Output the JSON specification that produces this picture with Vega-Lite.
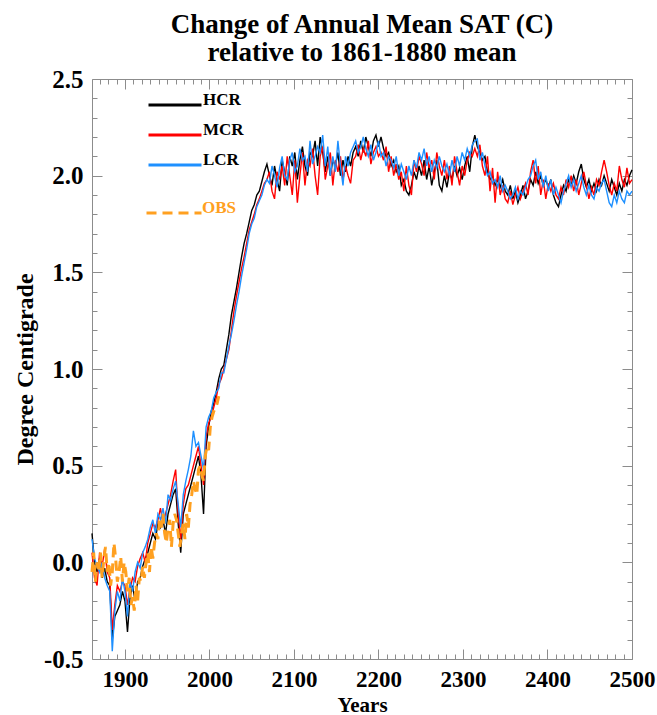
{
  "$schema": "https://vega.github.io/schema/vega-lite/v6.json",
  "width": 540,
  "height": 580,
  "autosize": {"type": "none"},
  "padding": {"left": 92, "top": 79, "right": 25, "bottom": 56},
  "background": "white",
  "config": {
    "view": {"stroke": "#8c8c8c", "strokeWidth": 1},
    "font": "Liberation Serif",
    "axis": {
      "domain": false,
      "grid": false,
      "tickColor": "#8c8c8c",
      "tickWidth": 1,
      "labelFont": "Liberation Serif",
      "labelFontWeight": "bold",
      "labelFontSize": 23,
      "labelColor": "black",
      "labelOverlap": false,
      "labelFlush": false,
      "titleFont": "Liberation Serif",
      "titleFontWeight": "bold",
      "titleColor": "black"
    }
  },
  "title": {
    "text": ["Change of Annual Mean SAT (C)", "relative to 1861-1880 mean"],
    "font": "Liberation Serif",
    "fontWeight": "bold",
    "fontSize": 27,
    "lineHeight": 28,
    "color": "black",
    "anchor": "middle",
    "offset": 0
  },
  "datasets": {
    "runs": [
      {"t":1861,"HCR":0.15,"MCR":0.05,"LCR":0.12},{"t":1864,"HCR":0.0,"MCR":-0.08,"LCR":0.02},{"t":1867,"HCR":-0.05,"MCR":-0.12,"LCR":-0.02},
      {"t":1870,"HCR":0.02,"MCR":0.05,"LCR":-0.05},{"t":1873,"HCR":-0.08,"MCR":-0.02,"LCR":0.0},{"t":1876,"HCR":-0.03,"MCR":0.07,"LCR":-0.08},
      {"t":1879,"HCR":-0.1,"MCR":-0.05,"LCR":-0.12},{"t":1882,"HCR":-0.12,"MCR":-0.08,"LCR":-0.15},{"t":1885,"HCR":-0.4,"MCR":-0.35,"LCR":-0.46},
      {"t":1888,"HCR":-0.28,"MCR":-0.22,"LCR":-0.25},{"t":1891,"HCR":-0.25,"MCR":-0.12,"LCR":-0.15},{"t":1894,"HCR":-0.22,"MCR":-0.15,"LCR":-0.2},
      {"t":1897,"HCR":-0.15,"MCR":-0.1,"LCR":-0.08},{"t":1900,"HCR":-0.2,"MCR":-0.12,"LCR":-0.15},{"t":1903,"HCR":-0.36,"MCR":-0.22,"LCR":-0.28},
      {"t":1906,"HCR":-0.18,"MCR":-0.14,"LCR":-0.1},{"t":1909,"HCR":-0.12,"MCR":-0.08,"LCR":-0.15},{"t":1912,"HCR":-0.2,"MCR":-0.1,"LCR":-0.05},
      {"t":1915,"HCR":-0.1,"MCR":-0.02,"LCR":0.0},{"t":1918,"HCR":-0.08,"MCR":0.02,"LCR":-0.03},{"t":1921,"HCR":-0.02,"MCR":0.05,"LCR":0.05},
      {"t":1924,"HCR":0.02,"MCR":0.0,"LCR":0.08},{"t":1927,"HCR":0.05,"MCR":0.1,"LCR":0.12},{"t":1930,"HCR":0.1,"MCR":0.15,"LCR":0.18},
      {"t":1933,"HCR":0.15,"MCR":0.2,"LCR":0.22},{"t":1936,"HCR":0.12,"MCR":0.18,"LCR":0.15},{"t":1939,"HCR":0.2,"MCR":0.22,"LCR":0.25},
      {"t":1942,"HCR":0.18,"MCR":0.28,"LCR":0.22},{"t":1945,"HCR":0.22,"MCR":0.2,"LCR":0.28},{"t":1948,"HCR":0.15,"MCR":0.25,"LCR":0.2},
      {"t":1951,"HCR":0.25,"MCR":0.3,"LCR":0.35},{"t":1954,"HCR":0.3,"MCR":0.35,"LCR":0.32},{"t":1957,"HCR":0.35,"MCR":0.42,"LCR":0.38},
      {"t":1960,"HCR":0.38,"MCR":0.48,"LCR":0.42},{"t":1963,"HCR":0.2,"MCR":0.25,"LCR":0.3},{"t":1966,"HCR":0.05,"MCR":0.12,"LCR":0.18},
      {"t":1969,"HCR":0.25,"MCR":0.3,"LCR":0.35},{"t":1972,"HCR":0.3,"MCR":0.38,"LCR":0.42},{"t":1975,"HCR":0.35,"MCR":0.4,"LCR":0.48},
      {"t":1978,"HCR":0.4,"MCR":0.45,"LCR":0.55},{"t":1981,"HCR":0.45,"MCR":0.5,"LCR":0.68},{"t":1984,"HCR":0.5,"MCR":0.55,"LCR":0.6},
      {"t":1987,"HCR":0.55,"MCR":0.6,"LCR":0.62},{"t":1990,"HCR":0.45,"MCR":0.5,"LCR":0.55},{"t":1993,"HCR":0.25,"MCR":0.4,"LCR":0.48},
      {"t":1996,"HCR":0.6,"MCR":0.65,"LCR":0.7},{"t":1999,"HCR":0.7,"MCR":0.72,"LCR":0.75},{"t":2002,"HCR":0.78,"MCR":0.75,"LCR":0.78},
      {"t":2005,"HCR":0.82,"MCR":0.8,"LCR":0.85},{"t":2008,"HCR":0.88,"MCR":0.85,"LCR":0.88},{"t":2011,"HCR":0.95,"MCR":0.92,"LCR":0.9},
      {"t":2014,"HCR":1.0,"MCR":0.95,"LCR":0.98},{"t":2017,"HCR":1.02,"MCR":1.0,"LCR":0.98},{"t":2020,"HCR":1.1,"MCR":1.05,"LCR":1.05},
      {"t":2023,"HCR":1.18,"MCR":1.1,"LCR":1.12},{"t":2026,"HCR":1.28,"MCR":1.2,"LCR":1.18},{"t":2029,"HCR":1.35,"MCR":1.3,"LCR":1.25},
      {"t":2032,"HCR":1.42,"MCR":1.38,"LCR":1.33},{"t":2035,"HCR":1.5,"MCR":1.45,"LCR":1.4},{"t":2038,"HCR":1.58,"MCR":1.52,"LCR":1.48},
      {"t":2041,"HCR":1.65,"MCR":1.58,"LCR":1.55},{"t":2044,"HCR":1.7,"MCR":1.65,"LCR":1.62},{"t":2047,"HCR":1.76,"MCR":1.72,"LCR":1.7},
      {"t":2050,"HCR":1.82,"MCR":1.76,"LCR":1.75},{"t":2053,"HCR":1.85,"MCR":1.8,"LCR":1.78},{"t":2056,"HCR":1.9,"MCR":1.85,"LCR":1.84},
      {"t":2059,"HCR":1.92,"MCR":1.88,"LCR":1.87},{"t":2062,"HCR":1.97,"MCR":1.92,"LCR":1.9},{"t":2065,"HCR":2.02,"MCR":1.96,"LCR":1.95},
      {"t":2068,"HCR":2.06,"MCR":1.98,"LCR":1.98},{"t":2071,"HCR":2.0,"MCR":2.02,"LCR":1.96},{"t":2074,"HCR":1.95,"MCR":1.92,"LCR":2.05},
      {"t":2077,"HCR":2.05,"MCR":1.88,"LCR":2.0},{"t":2080,"HCR":1.98,"MCR":2.02,"LCR":1.94},{"t":2083,"HCR":1.92,"MCR":1.98,"LCR":2.04},
      {"t":2086,"HCR":2.08,"MCR":2.05,"LCR":2.1},{"t":2089,"HCR":2.02,"MCR":1.95,"LCR":2.0},{"t":2092,"HCR":1.95,"MCR":2.1,"LCR":1.98},
      {"t":2095,"HCR":2.1,"MCR":2.0,"LCR":2.08},{"t":2098,"HCR":2.05,"MCR":1.9,"LCR":2.12},{"t":2101,"HCR":2.12,"MCR":2.08,"LCR":2.02},
      {"t":2104,"HCR":1.98,"MCR":1.86,"LCR":2.05},{"t":2107,"HCR":2.08,"MCR":2.0,"LCR":2.14},{"t":2110,"HCR":2.15,"MCR":2.12,"LCR":2.08},
      {"t":2113,"HCR":2.05,"MCR":1.95,"LCR":2.1},{"t":2116,"HCR":2.0,"MCR":2.08,"LCR":2.02},{"t":2119,"HCR":2.12,"MCR":2.05,"LCR":2.18},
      {"t":2122,"HCR":2.1,"MCR":2.14,"LCR":2.06},{"t":2125,"HCR":2.18,"MCR":2.0,"LCR":2.1},{"t":2128,"HCR":2.05,"MCR":1.9,"LCR":2.15},
      {"t":2131,"HCR":2.2,"MCR":2.1,"LCR":2.12},{"t":2134,"HCR":2.12,"MCR":2.15,"LCR":2.21},{"t":2137,"HCR":2.02,"MCR":1.98,"LCR":2.05},
      {"t":2140,"HCR":2.1,"MCR":2.05,"LCR":2.15},{"t":2143,"HCR":2.0,"MCR":2.12,"LCR":2.0},{"t":2146,"HCR":2.08,"MCR":1.95,"LCR":2.1},
      {"t":2149,"HCR":2.05,"MCR":2.08,"LCR":2.02},{"t":2152,"HCR":2.12,"MCR":2.02,"LCR":2.18},{"t":2155,"HCR":2.0,"MCR":2.1,"LCR":2.05},
      {"t":2158,"HCR":2.08,"MCR":1.98,"LCR":1.95},{"t":2161,"HCR":2.02,"MCR":2.05,"LCR":2.1},{"t":2164,"HCR":2.1,"MCR":2.0,"LCR":2.05},
      {"t":2167,"HCR":2.05,"MCR":1.96,"LCR":2.12},{"t":2170,"HCR":2.12,"MCR":2.08,"LCR":2.15},{"t":2173,"HCR":2.15,"MCR":2.1,"LCR":2.18},
      {"t":2176,"HCR":2.1,"MCR":2.16,"LCR":2.12},{"t":2179,"HCR":2.18,"MCR":2.08,"LCR":2.15},{"t":2182,"HCR":2.12,"MCR":2.14,"LCR":2.2},
      {"t":2185,"HCR":2.2,"MCR":2.1,"LCR":2.14},{"t":2188,"HCR":2.15,"MCR":2.18,"LCR":2.1},{"t":2191,"HCR":2.1,"MCR":2.06,"LCR":2.16},
      {"t":2194,"HCR":2.18,"MCR":2.12,"LCR":2.08},{"t":2197,"HCR":2.21,"MCR":2.15,"LCR":2.12},{"t":2200,"HCR":2.15,"MCR":2.1,"LCR":2.18},
      {"t":2203,"HCR":2.2,"MCR":2.12,"LCR":2.1},{"t":2206,"HCR":2.14,"MCR":2.08,"LCR":2.12},{"t":2209,"HCR":2.1,"MCR":2.15,"LCR":2.05},
      {"t":2212,"HCR":2.12,"MCR":2.02,"LCR":2.1},{"t":2215,"HCR":2.05,"MCR":2.1,"LCR":2.08},{"t":2218,"HCR":2.08,"MCR":2.0,"LCR":2.04},
      {"t":2221,"HCR":2.02,"MCR":2.06,"LCR":2.1},{"t":2224,"HCR":2.05,"MCR":1.98,"LCR":2.0},{"t":2227,"HCR":1.95,"MCR":2.02,"LCR":2.06},
      {"t":2230,"HCR":1.98,"MCR":1.92,"LCR":2.02},{"t":2233,"HCR":1.92,"MCR":2.05,"LCR":1.98},{"t":2236,"HCR":1.9,"MCR":1.95,"LCR":2.05},
      {"t":2239,"HCR":1.95,"MCR":1.9,"LCR":2.0},{"t":2242,"HCR":2.02,"MCR":2.08,"LCR":2.08},{"t":2245,"HCR":1.98,"MCR":2.02,"LCR":2.04},
      {"t":2248,"HCR":2.05,"MCR":2.1,"LCR":2.12},{"t":2251,"HCR":2.0,"MCR":2.06,"LCR":2.08},{"t":2254,"HCR":2.08,"MCR":2.0,"LCR":2.14},
      {"t":2257,"HCR":1.98,"MCR":2.12,"LCR":2.05},{"t":2260,"HCR":2.05,"MCR":2.04,"LCR":2.1},{"t":2263,"HCR":1.95,"MCR":2.08,"LCR":2.02},
      {"t":2266,"HCR":2.02,"MCR":1.98,"LCR":2.08},{"t":2269,"HCR":2.08,"MCR":2.12,"LCR":2.04},{"t":2272,"HCR":1.95,"MCR":2.05,"LCR":2.1},
      {"t":2275,"HCR":1.92,"MCR":2.0,"LCR":2.05},{"t":2278,"HCR":2.0,"MCR":2.08,"LCR":2.02},{"t":2281,"HCR":1.94,"MCR":1.98,"LCR":2.06},
      {"t":2284,"HCR":2.02,"MCR":2.05,"LCR":2.0},{"t":2287,"HCR":1.98,"MCR":1.95,"LCR":2.08},{"t":2290,"HCR":2.05,"MCR":2.1,"LCR":2.02},
      {"t":2293,"HCR":2.0,"MCR":2.02,"LCR":2.1},{"t":2296,"HCR":2.04,"MCR":1.95,"LCR":2.05},{"t":2299,"HCR":1.98,"MCR":2.05,"LCR":2.12},
      {"t":2302,"HCR":2.05,"MCR":2.0,"LCR":2.08},{"t":2305,"HCR":2.1,"MCR":2.08,"LCR":2.14},{"t":2308,"HCR":2.02,"MCR":2.12,"LCR":2.1},
      {"t":2311,"HCR":2.15,"MCR":2.1,"LCR":2.16},{"t":2314,"HCR":2.21,"MCR":2.14,"LCR":2.18},{"t":2317,"HCR":2.15,"MCR":2.1,"LCR":2.19},
      {"t":2320,"HCR":2.12,"MCR":2.16,"LCR":2.08},{"t":2323,"HCR":2.08,"MCR":2.05,"LCR":2.12},{"t":2326,"HCR":2.1,"MCR":2.0,"LCR":2.05},
      {"t":2329,"HCR":2.02,"MCR":2.1,"LCR":2.0},{"t":2332,"HCR":1.98,"MCR":1.92,"LCR":2.02},{"t":2335,"HCR":2.0,"MCR":2.04,"LCR":1.96},
      {"t":2338,"HCR":1.95,"MCR":1.86,"LCR":1.98},{"t":2341,"HCR":1.98,"MCR":2.02,"LCR":1.94},{"t":2344,"HCR":1.94,"MCR":1.9,"LCR":2.0},
      {"t":2347,"HCR":1.98,"MCR":1.95,"LCR":1.92},{"t":2350,"HCR":1.92,"MCR":1.88,"LCR":1.95},{"t":2353,"HCR":1.9,"MCR":1.86,"LCR":1.92},
      {"t":2356,"HCR":1.95,"MCR":1.92,"LCR":1.88},{"t":2359,"HCR":1.88,"MCR":1.85,"LCR":1.9},{"t":2362,"HCR":1.92,"MCR":1.9,"LCR":1.94},
      {"t":2365,"HCR":1.86,"MCR":1.94,"LCR":1.88},{"t":2368,"HCR":1.9,"MCR":1.88,"LCR":1.92},{"t":2371,"HCR":1.95,"MCR":1.92,"LCR":1.9},
      {"t":2374,"HCR":1.88,"MCR":1.96,"LCR":1.94},{"t":2377,"HCR":1.92,"MCR":1.9,"LCR":1.98},{"t":2380,"HCR":1.98,"MCR":2.02,"LCR":2.0},
      {"t":2383,"HCR":1.95,"MCR":2.08,"LCR":2.05},{"t":2386,"HCR":2.02,"MCR":1.96,"LCR":2.08},{"t":2389,"HCR":1.96,"MCR":2.05,"LCR":1.98},
      {"t":2392,"HCR":2.0,"MCR":1.9,"LCR":2.02},{"t":2395,"HCR":1.95,"MCR":1.98,"LCR":1.94},{"t":2398,"HCR":1.98,"MCR":1.88,"LCR":2.0},
      {"t":2401,"HCR":1.94,"MCR":1.96,"LCR":1.92},{"t":2404,"HCR":1.98,"MCR":1.92,"LCR":1.98},{"t":2407,"HCR":1.9,"MCR":1.96,"LCR":1.9},
      {"t":2410,"HCR":1.86,"MCR":1.9,"LCR":1.94},{"t":2413,"HCR":1.84,"MCR":1.88,"LCR":1.9},{"t":2416,"HCR":1.9,"MCR":1.94,"LCR":1.86},
      {"t":2419,"HCR":1.95,"MCR":1.9,"LCR":1.92},{"t":2422,"HCR":1.92,"MCR":1.98,"LCR":1.96},{"t":2425,"HCR":1.98,"MCR":1.94,"LCR":2.0},
      {"t":2428,"HCR":1.95,"MCR":2.0,"LCR":1.94},{"t":2431,"HCR":2.0,"MCR":1.92,"LCR":1.98},{"t":2434,"HCR":1.96,"MCR":1.98,"LCR":1.92},
      {"t":2437,"HCR":2.02,"MCR":1.9,"LCR":1.96},{"t":2440,"HCR":2.06,"MCR":1.96,"LCR":2.0},{"t":2443,"HCR":1.98,"MCR":2.02,"LCR":1.94},
      {"t":2446,"HCR":1.94,"MCR":1.95,"LCR":1.9},{"t":2449,"HCR":1.98,"MCR":1.88,"LCR":1.95},{"t":2452,"HCR":1.92,"MCR":1.94,"LCR":1.9},
      {"t":2455,"HCR":1.96,"MCR":1.9,"LCR":1.88},{"t":2458,"HCR":1.92,"MCR":1.98,"LCR":1.94},{"t":2461,"HCR":1.98,"MCR":1.95,"LCR":1.92},
      {"t":2464,"HCR":1.95,"MCR":2.02,"LCR":1.96},{"t":2467,"HCR":2.0,"MCR":2.08,"LCR":1.98},{"t":2470,"HCR":1.96,"MCR":2.02,"LCR":1.92},
      {"t":2473,"HCR":1.92,"MCR":1.95,"LCR":1.86},{"t":2476,"HCR":1.98,"MCR":1.9,"LCR":1.84},{"t":2479,"HCR":1.94,"MCR":1.96,"LCR":1.9},
      {"t":2482,"HCR":1.9,"MCR":1.92,"LCR":1.86},{"t":2485,"HCR":1.96,"MCR":2.05,"LCR":1.92},{"t":2488,"HCR":1.92,"MCR":1.98,"LCR":1.88},
      {"t":2491,"HCR":1.98,"MCR":1.94,"LCR":1.86},{"t":2494,"HCR":1.95,"MCR":2.04,"LCR":1.92},{"t":2497,"HCR":2.0,"MCR":1.96,"LCR":1.9},
      {"t":2500,"HCR":2.03,"MCR":1.98,"LCR":1.92}
    ],
    "obs": [
      {"t":1861,"OBS":-0.05},{"t":1863,"OBS":0.05},{"t":1865,"OBS":-0.1},{"t":1867,"OBS":0.0},{"t":1869,"OBS":-0.05},
      {"t":1871,"OBS":0.05},{"t":1873,"OBS":-0.08},{"t":1875,"OBS":0.02},{"t":1877,"OBS":0.08},{"t":1879,"OBS":-0.05},
      {"t":1881,"OBS":0.0},{"t":1883,"OBS":-0.12},{"t":1885,"OBS":-0.05},{"t":1887,"OBS":0.1},{"t":1889,"OBS":0.02},
      {"t":1891,"OBS":-0.1},{"t":1893,"OBS":-0.05},{"t":1895,"OBS":0.03},{"t":1897,"OBS":-0.1},{"t":1899,"OBS":0.0},
      {"t":1901,"OBS":-0.05},{"t":1903,"OBS":-0.15},{"t":1905,"OBS":-0.08},{"t":1907,"OBS":-0.22},{"t":1909,"OBS":-0.18},
      {"t":1911,"OBS":-0.25},{"t":1913,"OBS":-0.12},{"t":1915,"OBS":-0.2},{"t":1917,"OBS":-0.08},{"t":1919,"OBS":-0.1},
      {"t":1921,"OBS":-0.02},{"t":1923,"OBS":-0.08},{"t":1925,"OBS":0.0},{"t":1927,"OBS":0.05},{"t":1929,"OBS":-0.05},
      {"t":1931,"OBS":0.08},{"t":1933,"OBS":0.02},{"t":1935,"OBS":0.1},{"t":1937,"OBS":0.15},{"t":1939,"OBS":0.12},
      {"t":1941,"OBS":0.22},{"t":1943,"OBS":0.18},{"t":1945,"OBS":0.25},{"t":1947,"OBS":0.15},{"t":1949,"OBS":0.1},
      {"t":1951,"OBS":0.18},{"t":1953,"OBS":0.22},{"t":1955,"OBS":0.08},{"t":1957,"OBS":0.2},{"t":1959,"OBS":0.25},
      {"t":1961,"OBS":0.22},{"t":1963,"OBS":0.15},{"t":1965,"OBS":0.08},{"t":1967,"OBS":0.15},{"t":1969,"OBS":0.2},
      {"t":1971,"OBS":0.12},{"t":1973,"OBS":0.25},{"t":1975,"OBS":0.18},{"t":1977,"OBS":0.3},{"t":1979,"OBS":0.35},
      {"t":1981,"OBS":0.42},{"t":1983,"OBS":0.38},{"t":1985,"OBS":0.35},{"t":1987,"OBS":0.48},{"t":1989,"OBS":0.5},
      {"t":1991,"OBS":0.45},{"t":1993,"OBS":0.42},{"t":1995,"OBS":0.55},{"t":1997,"OBS":0.6},{"t":1999,"OBS":0.58},
      {"t":2001,"OBS":0.7},{"t":2003,"OBS":0.75},{"t":2005,"OBS":0.78},{"t":2007,"OBS":0.8},{"t":2009,"OBS":0.82},
      {"t":2011,"OBS":0.86}
    ]
  },
  "resolve": {"axis": {"x": "independent", "y": "independent"}},
  "layer": [
    {
      "data": {"name": "runs"},
      "mark": {"type": "line", "strokeWidth": 1.4},
      "encoding": {
        "x": {
          "field": "t", "type": "quantitative",
          "scale": {"domain": [1861, 2500], "nice": false, "zero": false},
          "axis": {
            "orient": "bottom", "values": [1900, 2000, 2100, 2200, 2300, 2400, 2500],
            "format": "d", "tickSize": -10, "labelPadding": 19,
            "title": "Years", "titleFontSize": 21, "titlePadding": 3
          }
        },
        "y": {
          "field": "HCR", "type": "quantitative",
          "scale": {"domain": [-0.5, 2.5], "nice": false, "zero": false},
          "axis": {
            "orient": "left", "values": [-0.5, 0, 0.5, 1, 1.5, 2, 2.5],
            "labelExpr": "datum.value < 0 ? '-' + format(-datum.value, '.1f') : format(datum.value, '.1f')",
            "labelFontSize": 25,
            "tickSize": -10, "labelPadding": 19,
            "title": "Degree Centigrade", "titleFontSize": 24, "titlePadding": 6
          }
        },
        "color": {
          "datum": "HCR", "type": "nominal",
          "scale": {"domain": ["HCR", "MCR", "LCR"], "range": ["#000000", "#ff0000", "#1e90ff"]},
          "legend": {
            "orient": "none", "legendX": 55, "legendY": 11, "title": null,
            "direction": "vertical", "padding": 0, "rowPadding": 0, "clipHeight": 30,
            "symbolType": "stroke", "symbolSize": 2809, "symbolStrokeWidth": 3,
            "labelFont": "Liberation Serif", "labelFontWeight": "bold", "labelFontSize": 17,
            "labelColor": "black", "labelBaseline": "alphabetic", "labelOffset": 0
          }
        }
      }
    },
    {
      "data": {"name": "runs"},
      "mark": {"type": "line", "strokeWidth": 1.4},
      "encoding": {
        "x": {
          "field": "t", "type": "quantitative",
          "scale": {"domain": [1861, 2500], "nice": false, "zero": false},
          "axis": {
            "orient": "bottom", "labels": false, "tickSize": -5, "title": null,
            "values": [1870,1880,1890,1900,1910,1920,1930,1940,1950,1960,1970,1980,1990,2000,2010,2020,2030,2040,2050,2060,2070,2080,2090,2100,2110,2120,2130,2140,2150,2160,2170,2180,2190,2200,2210,2220,2230,2240,2250,2260,2270,2280,2290,2300,2310,2320,2330,2340,2350,2360,2370,2380,2390,2400,2410,2420,2430,2440,2450,2460,2470,2480,2490]
          }
        },
        "y": {
          "field": "MCR", "type": "quantitative",
          "scale": {"domain": [-0.5, 2.5], "nice": false, "zero": false},
          "axis": {
            "orient": "left", "labels": false, "tickSize": -5, "title": null,
            "values": [-0.4,-0.3,-0.2,-0.1,0,0.1,0.2,0.3,0.4,0.5,0.6,0.7,0.8,0.9,1,1.1,1.2,1.3,1.4,1.5,1.6,1.7,1.8,1.9,2,2.1,2.2,2.3,2.4]
          }
        },
        "color": {"datum": "MCR", "type": "nominal"}
      }
    },
    {
      "data": {"name": "runs"},
      "mark": {"type": "line", "strokeWidth": 1.4},
      "encoding": {
        "x": {
          "field": "t", "type": "quantitative",
          "scale": {"domain": [1861, 2500], "nice": false, "zero": false},
          "axis": {
            "orient": "top", "labels": false, "tickSize": -10, "title": null,
            "values": [1900, 2000, 2100, 2200, 2300, 2400, 2500]
          }
        },
        "y": {
          "field": "LCR", "type": "quantitative",
          "scale": {"domain": [-0.5, 2.5], "nice": false, "zero": false},
          "axis": {
            "orient": "right", "labels": false, "tickSize": -10, "title": null,
            "values": [-0.5, 0, 0.5, 1, 1.5, 2, 2.5]
          }
        },
        "color": {"datum": "LCR", "type": "nominal"}
      }
    },
    {
      "data": {"name": "obs"},
      "mark": {"type": "line", "strokeWidth": 3, "color": "#ffa020"},
      "encoding": {
        "x": {
          "field": "t", "type": "quantitative",
          "scale": {"domain": [1861, 2500], "nice": false, "zero": false},
          "axis": {
            "orient": "top", "labels": false, "tickSize": -5, "title": null,
            "values": [1870,1880,1890,1900,1910,1920,1930,1940,1950,1960,1970,1980,1990,2000,2010,2020,2030,2040,2050,2060,2070,2080,2090,2100,2110,2120,2130,2140,2150,2160,2170,2180,2190,2200,2210,2220,2230,2240,2250,2260,2270,2280,2290,2300,2310,2320,2330,2340,2350,2360,2370,2380,2390,2400,2410,2420,2430,2440,2450,2460,2470,2480,2490]
          }
        },
        "y": {
          "field": "OBS", "type": "quantitative",
          "scale": {"domain": [-0.5, 2.5], "nice": false, "zero": false},
          "axis": {
            "orient": "right", "labels": false, "tickSize": -5, "title": null,
            "values": [-0.4,-0.3,-0.2,-0.1,0,0.1,0.2,0.3,0.4,0.5,0.6,0.7,0.8,0.9,1,1.1,1.2,1.3,1.4,1.5,1.6,1.7,1.8,1.9,2,2.1,2.2,2.3,2.4]
          }
        },
        "strokeDash": {
          "datum": "OBS", "type": "nominal",
          "scale": {"domain": ["OBS"], "range": [[10, 6]]},
          "legend": {
            "orient": "none", "legendX": 53, "legendY": 119, "title": null,
            "padding": 0, "rowPadding": 0, "clipHeight": 30,
            "symbolType": "stroke", "symbolSize": 3025, "symbolStrokeWidth": 3,
            "symbolStrokeColor": "#ffa020",
            "labelFont": "Liberation Serif", "labelFontWeight": "bold", "labelFontSize": 17,
            "labelColor": "#ffa020", "labelBaseline": "alphabetic", "labelOffset": -1
          }
        }
      }
    },
    {
      "mark": {"type": "rule", "color": "#22e6f2", "strokeWidth": 3.5},
      "encoding": {
        "y": {"datum": 2, "type": "quantitative", "scale": {"domain": [-0.5, 2.5], "nice": false, "zero": false}, "axis": null}
      }
    }
  ]
}
